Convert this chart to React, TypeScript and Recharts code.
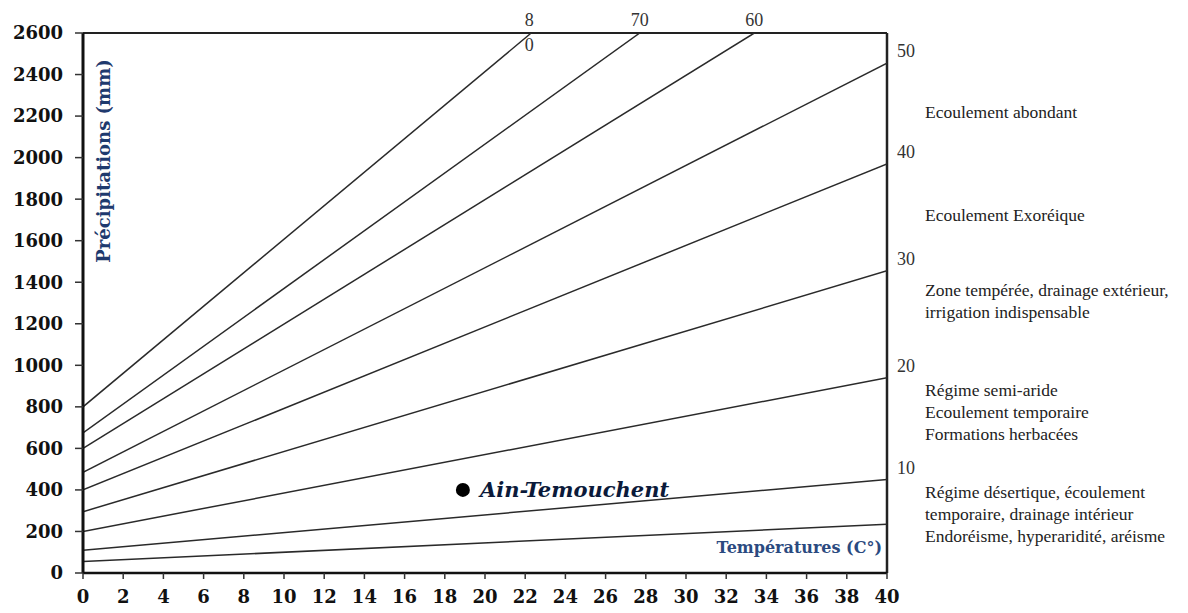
import React from 'react';
import { ComposedChart, Line, XAxis, YAxis, ReferenceLine, ReferenceDot, Label } from 'recharts';

// Temperatures (°C) on x, precipitation (mm) on y
const xTicks = [0, 2, 4, 6, 8, 10, 12, 14, 16, 18, 20, 22, 24, 26, 28, 30, 32, 34, 36, 38, 40];
const yTicks = [0, 200, 400, 600, 800, 1000, 1200, 1400, 1600, 1800, 2000, 2200, 2400, 2600];

// De Martonne index lines, endpoints
const idx5 = [{ t: 0, p: 55 }, { t: 40, p: 235 }];
const idx10 = [{ t: 0, p: 110 }, { t: 40, p: 450 }];
const idx20 = [{ t: 0, p: 200 }, { t: 40, p: 940 }];
const idx30 = [{ t: 0, p: 295 }, { t: 40, p: 1455 }];
const idx40 = [{ t: 0, p: 400 }, { t: 40, p: 1970 }];
const idx50 = [{ t: 0, p: 485 }, { t: 40, p: 2455 }];
const idx60 = [{ t: 0, p: 600 }, { t: 33.4, p: 2600 }];
const idx70 = [{ t: 0, p: 675 }, { t: 27.7, p: 2600 }];
const idx80 = [{ t: 0, p: 800 }, { t: 22.3, p: 2600 }];

const site = { name: 'Ain-Temouchent', t: 18.9, p: 400 };

const rightLabels = ['10', '20', '30', '40', '50'];

const zoneNotes: { top: number; lines: string[] }[] = [
  { top: 112, lines: ['Ecoulement abondant'] },
  { top: 215, lines: ['Ecoulement Exoréique'] },
  { top: 290, lines: ['Zone tempérée, drainage extérieur,', 'irrigation indispensable'] },
  { top: 390, lines: ['Régime semi-aride', 'Ecoulement temporaire', 'Formations herbacées'] },
  { top: 492, lines: ['Régime désertique, écoulement', 'temporaire, drainage intérieur', 'Endoréisme, hyperaridité, aréisme'] },
];

const lineColor = '#2a2a2a';

const endLabel = (text: string, kind: 'right' | 'top' | 'split') => (props: any) => {
  const { x, y, index } = props;
  if (index !== 1) return null;
  const common = { fontFamily: '"Liberation Serif", serif', fontSize: 18, fill: '#333' };
  if (kind === 'right') {
    return (
      <text x={x + 10} y={y - 10} dominantBaseline="middle" textAnchor="start" {...common}>
        {text}
      </text>
    );
  }
  if (kind === 'top') {
    return (
      <text x={x} y={y - 11} dominantBaseline="middle" textAnchor="middle" {...common}>
        {text}
      </text>
    );
  }
  return (
    <g>
      <text x={x - 2} y={y - 11} dominantBaseline="middle" textAnchor="middle" {...common}>
        {text[0]}
      </text>
      <text x={x - 2} y={y + 14} dominantBaseline="middle" textAnchor="middle" {...common}>
        {text[1]}
      </text>
    </g>
  );
};

export default function App() {
  const series: { data: { t: number; p: number }[]; label?: any }[] = [
    { data: idx5 },
    { data: idx10, label: endLabel(rightLabels[0], 'right') },
    { data: idx20, label: endLabel(rightLabels[1], 'right') },
    { data: idx30, label: endLabel(rightLabels[2], 'right') },
    { data: idx40, label: endLabel(rightLabels[3], 'right') },
    { data: idx50, label: endLabel(rightLabels[4], 'right') },
    { data: idx60, label: endLabel('60', 'top') },
    { data: idx70, label: endLabel('70', 'top') },
    { data: idx80, label: endLabel('80', 'split') },
  ];

  return (
    <div style={{ position: 'absolute', left: 0, top: 0, width: 1188, height: 613, background: '#fff' }}>
      <ComposedChart width={1188} height={613} margin={{ top: 33, right: 301, bottom: 0, left: 0 }}>
        <XAxis
          type="number"
          dataKey="t"
          domain={[0, 40]}
          ticks={xTicks}
          interval={0}
          allowDataOverflow
          height={40}
          tickSize={6}
          tickMargin={11}
          axisLine={{ stroke: '#111', strokeWidth: 2.5 }}
          tickLine={{ stroke: '#333', strokeWidth: 1.5 }}
          tick={{ fill: '#111', fontFamily: '"DejaVu Serif", serif', fontWeight: 'bold', fontSize: 18 }}
        />
        <YAxis
          type="number"
          dataKey="p"
          domain={[0, 2600]}
          ticks={yTicks}
          interval={0}
          allowDataOverflow
          width={83}
          tickSize={8}
          tickMargin={12}
          axisLine={{ stroke: '#111', strokeWidth: 3 }}
          tickLine={{ stroke: '#333', strokeWidth: 1.5 }}
          tick={{ fill: '#111', fontFamily: '"DejaVu Serif", serif', fontWeight: 'bold', fontSize: 18 }}
        />
        <ReferenceLine y={2600} stroke="#222" strokeWidth={2} />
        <ReferenceLine x={40} stroke="#222" strokeWidth={2.5} />
        {series.map((s, i) => (
          <Line
            key={i}
            data={s.data}
            dataKey="p"
            type="linear"
            stroke={lineColor}
            strokeWidth={1.5}
            dot={false}
            activeDot={false}
            isAnimationActive={false}
            label={s.label}
          />
        ))}
        <ReferenceDot x={site.t} y={site.p} r={7} fill="#000" stroke="none">
          <Label
            value={site.name}
            position="right"
            offset={10}
            fill="#0b1a3a"
            fontSize={21}
            fontWeight="bold"
            fontStyle="italic"
            fontFamily='"DejaVu Serif", serif'
          />
        </ReferenceDot>
      </ComposedChart>

      <div
        style={{
          position: 'absolute',
          left: 103,
          top: 161,
          transform: 'translate(-50%, -50%) rotate(-90deg)',
          whiteSpace: 'nowrap',
          fontFamily: '"DejaVu Serif", serif',
          fontWeight: 'bold',
          fontSize: 18,
          color: '#1f3a6e',
        }}
      >
        Précipitations (mm)
      </div>
      <div
        style={{
          position: 'absolute',
          right: 1188 - 882,
          top: 548 - 11,
          lineHeight: '22px',
          whiteSpace: 'nowrap',
          fontFamily: '"DejaVu Serif", serif',
          fontWeight: 'bold',
          fontSize: 16,
          color: '#2b4a80',
        }}
      >
        Températures (C°)
      </div>
      {zoneNotes.map((n, i) => (
        <div
          key={i}
          style={{
            position: 'absolute',
            left: 925,
            top: n.top - 11,
            lineHeight: '22px',
            whiteSpace: 'nowrap',
            fontFamily: '"Liberation Serif", serif',
            fontSize: 17.5,
            color: '#222',
          }}
        >
          {n.lines.map((l, j) => (
            <div key={j}>{l}</div>
          ))}
        </div>
      ))}
    </div>
  );
}
